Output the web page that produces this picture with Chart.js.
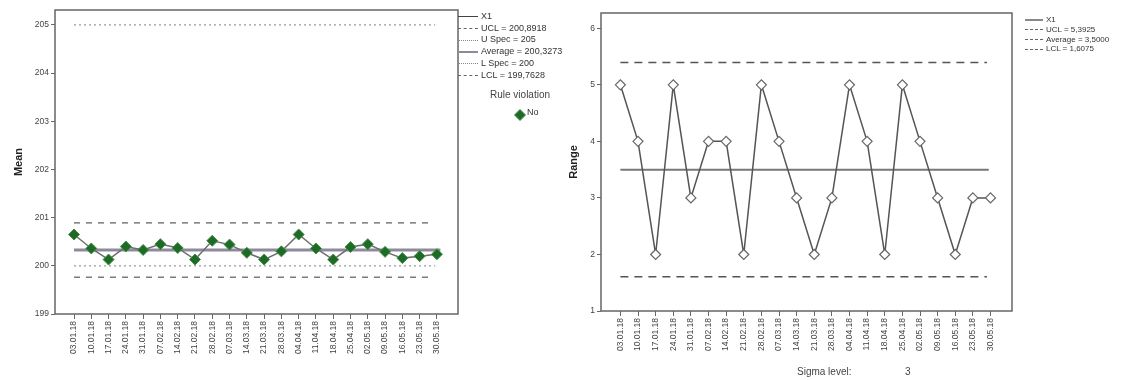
<!DOCTYPE html>
<html><head><meta charset="utf-8">
<script src="https://cdn.jsdelivr.net/npm/chart.js@4.4.0/dist/chart.umd.min.js"></script>
<style>
body{margin:0;background:#fff;width:1137px;height:380px;overflow:hidden;position:relative;font-family:"Liberation Sans",Arial,sans-serif;}
#w1{position:absolute;left:0;top:0;width:560px;height:380px;}
#w2{position:absolute;left:560px;top:0;width:577px;height:380px;}
.leg{position:absolute;color:#333;}
.row{display:flex;align-items:center;white-space:nowrap;}
.sym{display:inline-block;width:20px;margin-right:3px;height:0;}
.txt{position:absolute;color:#333;white-space:nowrap;}
</style></head><body>
<div id="w1"><canvas id="c1" width="560" height="380"></canvas></div>
<div id="w2"><canvas id="c2" width="577" height="380"></canvas></div>

<div class="leg" id="leg1" style="left:458px;top:11px;font-size:9px;line-height:11.7px;"></div>
<div class="txt" style="left:490px;top:89px;font-size:10px;color:#444;">Rule violation</div>
<div class="txt" style="left:514px;top:107px;width:12px;height:12px;"><canvas id="dia" width="12" height="12"></canvas></div>
<div class="txt" style="left:527px;top:107px;font-size:9px;">No</div>

<div class="leg" id="leg2" style="left:1025px;top:15px;font-size:8px;line-height:9.8px;"></div>
<div class="txt" style="left:797px;top:366px;font-size:10px;color:#444;">Sigma level:</div>
<div class="txt" style="left:905px;top:366px;font-size:10px;color:#444;">3</div>

<script>
const categories = ["03.01.18","10.01.18","17.01.18","24.01.18","31.01.18","07.02.18","14.02.18","21.02.18","28.02.18","07.03.18","14.03.18","21.03.18","28.03.18","04.04.18","11.04.18","18.04.18","25.04.18","02.05.18","09.05.18","16.05.18","23.05.18","30.05.18"];
const meanValues = [200.65,200.36,200.13,200.40,200.33,200.45,200.37,200.13,200.52,200.44,200.27,200.13,200.30,200.65,200.36,200.13,200.39,200.45,200.29,200.16,200.20,200.24];
const rangeValues = [5,4,2,5,3,4,4,2,5,4,3,2,3,5,4,2,5,4,3,2,3,3];
const meanLimits = [200.8918, 205, 200.3273, 200, 199.7628]; // UCL, U Spec, Average, L Spec, LCL
const rangeLimits = [5.3925, 3.5, 1.6075]; // UCL, Average, LCL
const meanTicks = [199,200,201,202,203,204,205];
const rangeTicks = [1,2,3,4,5,6];
const meanLegend = ["X1","UCL = 200,8918","U Spec = 205","Average = 200,3273","L Spec = 200","LCL = 199,7628"];
const rangeLegend = ["X1","UCL = 5,3925","Average = 3,5000","LCL = 1,6075"];

const FONT = "'Liberation Sans', Arial, sans-serif";
const last = categories.length - 1;
function hline(v, color, width, dash, endIdx){
  return {type:'line', data:[{x:0,y:v},{x:endIdx,y:v}], borderColor:color, borderWidth:width, borderDash:dash, pointRadius:0, order:2, fill:false};
}
const frame = {id:'frame', afterDraw(ch){const a=ch.chartArea, c=ch.ctx; c.save(); c.strokeStyle='#666'; c.lineWidth=1.5; c.strokeRect(a.left,a.top,a.right-a.left,a.bottom-a.top); c.restore();}};

function makeOpts(yTicks, ymin, ymax, title, yw, xh, pad, titlePad){
  return {
    responsive:false, animation:false,
    layout:{padding:pad},
    plugins:{legend:{display:false}, tooltip:{enabled:false}},
    scales:{
      x:{type:'linear', min:-1.1, max:last+1.22,
        afterBuildTicks(s){ s.ticks = categories.map((_,i)=>({value:i})); },
        afterFit(s){ s.height = xh; },
        ticks:{autoSkip:false, maxRotation:90, minRotation:90, font:{family:FONT,size:8.5}, color:'#444', padding:2,
          callback:(v)=>categories[v]},
        grid:{drawOnChartArea:false, drawTicks:true, tickLength:5, color:'#666', lineWidth:1},
        border:{display:false}},
      y:{min:ymin, max:ymax,
        afterBuildTicks(s){ s.ticks = yTicks.map(v=>({value:v})); },
        afterFit(s){ s.width = yw; },
        ticks:{font:{family:FONT,size:8.5}, color:'#444', padding:2},
        grid:{drawOnChartArea:false, drawTicks:true, tickLength:4, color:'#666'},
        border:{display:false},
        title:{display:true, text:title, font:{family:FONT,size:11,weight:'bold'}, color:'#222', padding:titlePad}}
    }
  };
}

new Chart(document.getElementById('c1'), {
  type:'line',
  data:{datasets:[
    {data:meanValues.map((v,i)=>({x:i,y:v})), borderColor:'#6e6e6e', borderWidth:1.5, pointStyle:'rectRot', pointRadius:5.5,
     pointBackgroundColor:'#1f6a27', pointBorderColor:'#3f8f45', pointBorderWidth:1, order:0, tension:0},
    hline(meanLimits[0], '#7a7a7a', 1.5, [6,6], last-0.4),
    hline(meanLimits[1], '#9a9a9a', 1.2, [2,3], last-0.1),
    hline(meanLimits[2], '#8e8a9c', 3, [], last+0.2),
    hline(meanLimits[3], '#9a9a9a', 1.2, [2,3], last-0.1),
    hline(meanLimits[4], '#7a7a7a', 1.5, [6,6], last-0.4)
  ]},
  options:makeOpts(meanTicks, 199, 205.31, 'Mean', 55, 66, {left:0,top:10,right:102,bottom:0}, {top:12,bottom:0}),
  plugins:[frame]
});

new Chart(document.getElementById('c2'), {
  type:'line',
  data:{datasets:[
    {data:rangeValues.map((v,i)=>({x:i,y:v})), borderColor:'#555', borderWidth:1.5, pointStyle:'rectRot', pointRadius:5,
     pointBackgroundColor:'#ffffff', pointBorderColor:'#666', pointBorderWidth:1.2, order:0, tension:0},
    hline(rangeLimits[0], '#555', 1.5, [8,6], last-0.2),
    hline(rangeLimits[1], '#777', 2, [], last-0.1),
    hline(rangeLimits[2], '#555', 1.5, [8,6], last-0.2)
  ]},
  options:makeOpts(rangeTicks, 1, 6.27, 'Range', 41, 69, {left:0,top:13,right:125,bottom:0}, {top:7,bottom:0}),
  plugins:[frame]
});

// diamond legend marker
(function(){const c=document.getElementById('dia').getContext('2d'); c.fillStyle='#1f6a27'; c.strokeStyle='#3f8f45';
  c.beginPath(); c.moveTo(6,0.5); c.lineTo(11.5,6); c.lineTo(6,11.5); c.lineTo(0.5,6); c.closePath(); c.fill(); c.stroke();})();

const styles1 = ['1px solid #444','1px dashed #666','1px dotted #888','2px solid #8e8a9c','1px dotted #888','1px dashed #666'];
document.getElementById('leg1').innerHTML = meanLegend.map((t,i)=>
  `<div class="row"><span class="sym" style="border-top:${styles1[i]}"></span><span>${t}</span></div>`).join('');
const styles2 = ['2px solid #888','1px dashed #666','1px dashed #666','1px dashed #666'];
document.getElementById('leg2').innerHTML = rangeLegend.map((t,i)=>
  `<div class="row"><span class="sym" style="width:18px;border-top:${styles2[i]}"></span><span>${t}</span></div>`).join('');
</script>
</body></html>
